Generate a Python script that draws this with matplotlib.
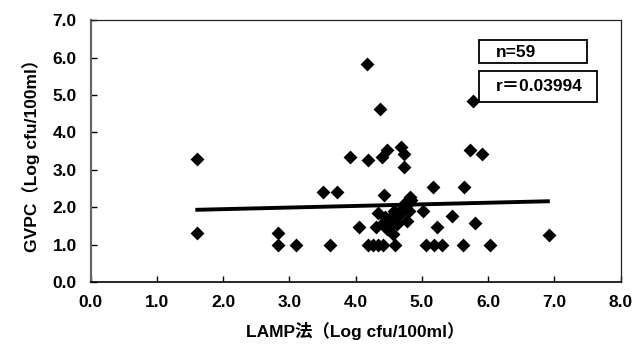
import matplotlib
matplotlib.use("Agg")
import matplotlib.pyplot as plt
from matplotlib.patches import Rectangle

plt.rcParams['font.family'] = ['Liberation Sans', 'Noto Sans CJK JP', 'DejaVu Sans']

# LAMP (x) vs GVPC (y), Log cfu/100ml
lamp = [1.60, 1.60, 2.83, 2.83, 3.10, 3.62, 3.50, 3.72, 3.92, 4.17,
        4.36, 4.18, 4.40, 4.48, 4.69, 4.73, 4.73, 4.05, 4.31, 4.18,
        4.26, 4.33, 4.41, 4.59, 4.43, 4.82, 4.33, 5.01, 5.16, 5.63,
        5.45, 5.23, 5.80, 5.06, 5.18, 5.30, 5.62, 6.02, 5.73, 5.91,
        5.77, 6.92, 4.58, 4.76, 4.84, 4.78, 4.51, 4.43, 4.48, 4.56,
        4.66, 4.70, 4.62, 4.52, 4.80, 4.74, 4.60, 4.45, 4.68]
gvpc = [3.30, 1.30, 1.31, 1.00, 1.00, 1.00, 2.41, 2.41, 3.33, 5.83,
        4.62, 3.25, 3.33, 3.54, 3.61, 3.43, 3.08, 1.47, 1.47, 1.00,
        1.00, 1.00, 1.00, 1.00, 2.33, 2.26, 1.84, 1.89, 2.55, 2.53,
        1.76, 1.47, 1.58, 1.00, 1.00, 1.00, 1.00, 1.00, 3.52, 3.41,
        4.85, 1.27, 1.91, 2.04, 2.18, 1.64, 1.69, 1.60, 1.42, 1.29,
        1.78, 1.95, 1.55, 1.50, 1.90, 2.10, 1.70, 1.75, 1.85]

# regression line end points
trend_x = [1.58, 6.93]
trend_y = [1.93, 2.16]

n_text = "n=59"
r_text = "r＝0.03994"
x_ticks = [0, 1, 2, 3, 4, 5, 6, 7, 8]
y_ticks = [0, 1, 2, 3, 4, 5, 6, 7]

fig = plt.figure(figsize=(6.34, 3.53), dpi=100)
ax = fig.add_axes([0.143, 0.201, 0.836, 0.742])

ax.plot(trend_x, trend_y, color='black', lw=2.8, solid_capstyle='butt', zorder=2)
ax.scatter(lamp, gvpc, marker='D', s=50, color='black', linewidths=0, zorder=6)

ax.set_xlim(0, 8)
ax.set_ylim(0, 7)
ax.set_xticks(x_ticks)
ax.set_yticks(y_ticks)
ax.set_xticklabels([f"{v:.1f}" for v in x_ticks])
ax.set_yticklabels([f"{v:.1f}" for v in y_ticks])
ax.tick_params(direction='in', length=4, width=1, labelsize=12.5, colors='black')
ax.tick_params(axis='x', pad=9)
ax.tick_params(axis='y', pad=10)
for lab in ax.get_xticklabels() + ax.get_yticklabels():
    lab.set_fontweight('bold')

for side in ['top', 'right']:
    ax.spines[side].set_linewidth(0.9)
    ax.spines[side].set_color('#222222')
ax.spines['left'].set_linewidth(1.6)
ax.spines['left'].set_color('#666666')
ax.spines['bottom'].set_linewidth(1.2)

ax.set_xlabel("LAMP法（Log cfu/100ml）", fontsize=12.5, fontweight='bold', labelpad=9)
ax.set_ylabel("GVPC（Log cfu/100ml）", fontsize=12.5, fontweight='bold', labelpad=9)

# annotation boxes (axes fraction coordinates)
ax.add_patch(Rectangle((0.733, 0.835), 0.204, 0.089, transform=ax.transAxes,
                       facecolor='white', edgecolor='black', lw=1.3, zorder=4))
ax.add_patch(Rectangle((0.733, 0.687), 0.222, 0.118, transform=ax.transAxes,
                       facecolor='white', edgecolor='black', lw=1.3, zorder=4))
ax.text(0.765, 0.878, n_text, transform=ax.transAxes, fontsize=12.5, fontweight='bold',
        va='center', ha='left', zorder=5)
ax.text(0.765, 0.745, r_text, transform=ax.transAxes, fontsize=12.5, fontweight='bold',
        va='center', ha='left', zorder=5)

fig.savefig("out.png", dpi=100)
